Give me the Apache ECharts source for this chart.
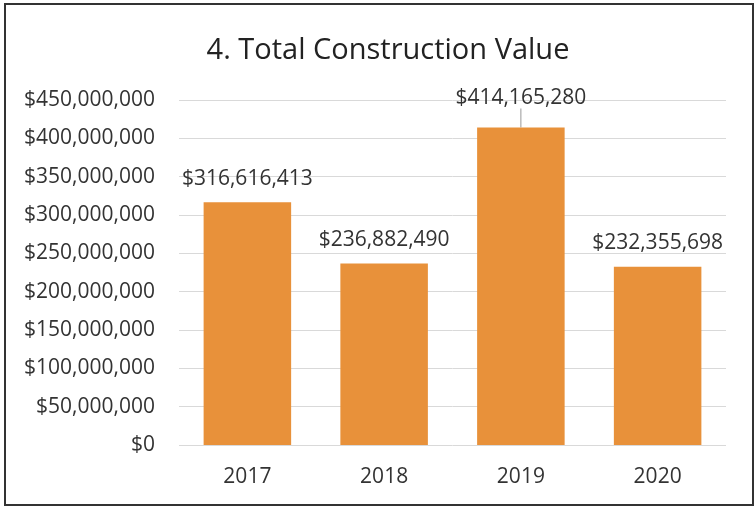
<!DOCTYPE html>
<html>
<head>
<meta charset="utf-8">
<script src="https://cdn.jsdelivr.net/npm/echarts@6/dist/echarts.min.js"></script>
<style>
  html, body { margin: 0; padding: 0; background: #fff; }
  #tu1 { width: 754px; height: 507px; }
</style>
</head>
<body>
<div id="tu1"></div>
<script>
var years = ['2017', '2018', '2019', '2020'];
var totalValue = [316616413, 236882490, 414165280, 232355698];
var yTicks = [0, 50000000, 100000000, 150000000, 200000000, 250000000, 300000000, 350000000, 400000000, 450000000];

function money(v) {
    return '$' + Number(v).toLocaleString('en-US');
}

// only the 2019 label is pushed up, with a short leader line
var barData = totalValue.map(function (v, i) {
    if (i === 2) {
        return { value: v, labelLine: { show: true } };
    }
    return v;
});

var myChart1 = echarts.init(document.getElementById('tu1'));

var option1 = {
    animation: false,
    textStyle: { fontFamily: 'Open Sans' },
    title: {
        text: '4. Total Construction Value',
        left: 383,
        textAlign: 'center',
        top: 31,
        textStyle: {
            fontFamily: 'Open Sans',
            fontSize: 29,
            fontWeight: 'normal',
            color: '#222'
        }
    },
    graphic: [{
        type: 'rect',
        shape: { x: 5, y: 4, width: 748, height: 501 },
        style: { fill: 'none', stroke: '#333', lineWidth: 2 },
        silent: true
    }],
    grid: {
        left: 179,
        right: 28,
        top: 100,
        bottom: 62
    },
    xAxis: {
        type: 'category',
        data: years,
        axisTick: { show: false },
        axisLine: { show: false },
        axisLabel: {
            margin: 22,
            fontSize: 21,
            color: '#333'
        }
    },
    yAxis: {
        type: 'value',
        min: yTicks[0],
        max: yTicks[yTicks.length - 1],
        interval: yTicks[1] - yTicks[0],
        axisLine: { show: false },
        axisTick: { show: false },
        splitLine: {
            lineStyle: { color: '#d9d9d9', width: 1 }
        },
        axisLabel: {
            margin: 24,
            fontSize: 21,
            color: '#333',
            formatter: money
        }
    },
    series: [{
        type: 'bar',
        data: barData,
        barCategoryGap: '36%',
        itemStyle: {
            color: '#E8913A'
        },
        label: {
            show: true,
            position: 'top',
            distance: 13,
            fontSize: 21,
            color: '#333',
            formatter: function (p) { return money(p.value); }
        },
        labelLayout: function (p) {
            if (p.dataIndex === 2) {
                return { dy: -6 };
            }
        },
        labelLine: {
            show: false,
            lineStyle: { color: '#999', width: 1 }
        }
    }]
};

myChart1.setOption(option1);
</script>
</body>
</html>
